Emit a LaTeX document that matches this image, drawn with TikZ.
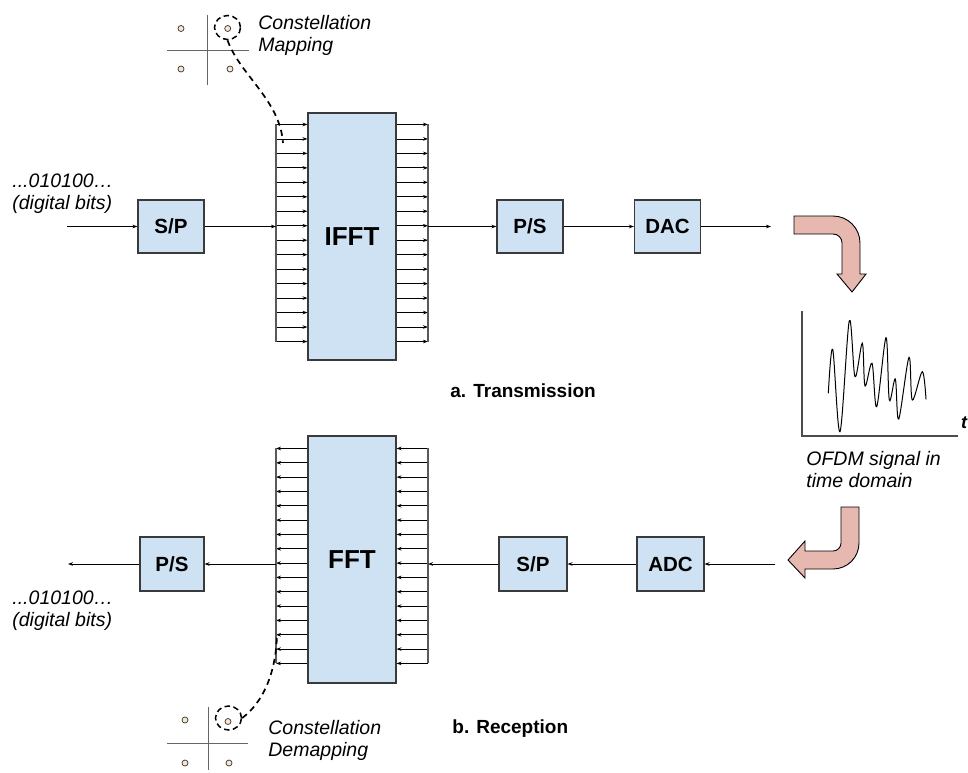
\documentclass[tikz,border=0pt]{standalone}
\usepackage{fontspec}
\setmainfont{Liberation Sans}
\usetikzlibrary{arrows.meta,positioning,calc,shapes.geometric}
\definecolor{blockblue}{HTML}{CFE2F3}
\definecolor{blockline}{HTML}{3A3A3A}
\definecolor{bentred}{HTML}{E6B8AF}
\definecolor{dotbeige}{HTML}{FCE5CD}
\begin{document}
\begin{tikzpicture}[x=1pt,y=-1pt,>={Stealth[length=5pt,width=3.6pt]},line width=0.8pt,
  block/.style={draw=blockline,fill=blockblue,line width=1.1pt,minimum width=66pt,minimum height=53pt,inner sep=0pt,font=\fontsize{20.5}{24}\selectfont\bfseries},
  fft block/.style={block,minimum width=88pt,minimum height=247pt,font=\fontsize{26}{30}\selectfont\bfseries},
  bus/.style={draw=black!65,line width=1.1pt},
  note/.style={align=left,inner sep=0pt,anchor=north west,font=\fontsize{19.5}{22}\selectfont\itshape},
  caption/.style={inner sep=0pt,anchor=base west,font=\fontsize{19}{22}\selectfont\bfseries},
  bent arrow/.style={draw=black,fill=bentred,line width=0.9pt},
  dot/.style={circle,draw=black!80,fill=dotbeige,line width=0.7pt,minimum size=6pt,inner sep=0pt},
  pick/.style={draw=black,ellipse,line width=1.5pt,dash pattern=on 5.5pt off 3.5pt,minimum width=26pt,minimum height=24pt,inner sep=0pt},
  map line/.style={draw=black,line width=1.7pt,dash pattern=on 6pt off 4.5pt},
  axis/.style={draw=black!70,line width=1.2pt}]
\useasboundingbox (0,0) rectangle (968,772);

% transmission
\node[fft block] (ifft) at (352,236.5) {IFFT};
\node[block] (sp) at (171,226.5) {S/P};
\node[block] (ps) at (530,226.5) {P/S};
\node[block] (dac) at (667.5,226.5) {DAC};
\coordinate (tx start) at (67,226.5);
\coordinate (tx end) at (771,226.5);
\coordinate (tx in bus) at (276,0);
\coordinate (tx out bus) at (428,0);
\foreach \i in {0,...,15} {
  \path (ifft.north west) ++(0,{12+14.47*\i}) coordinate (l\i);
  \path (ifft.north east) ++(0,{12+14.47*\i}) coordinate (r\i);
  \draw[->] (l\i -| tx in bus) -- (l\i);
  \draw[->] (r\i) -- (r\i -| tx out bus);
}
\draw[bus] (l0 -| tx in bus) -- (l15 -| tx in bus);
\draw[bus] (r0 -| tx out bus) -- (r15 -| tx out bus);
\draw[->] (tx start) -- (sp);
\draw[->] (sp.east) -- (sp.east -| tx in bus);
\draw[->] (ps.west -| tx out bus) -- (ps.west);
\draw[->] (ps) -- (dac);
\draw[->] (dac) -- (tx end);

% reception
\node[fft block] (fft) at (352,559.5) {FFT};
\node[block,minimum width=64pt,minimum height=54pt] (ps rx) at (172,564) {P/S};
\node[block,minimum width=68pt,minimum height=54pt] (sp rx) at (533,564) {S/P};
\node[block,minimum width=67pt,minimum height=54pt] (adc) at (670.5,564) {ADC};
\coordinate (rx start) at (775,564);
\coordinate (rx end) at (68,564);
\coordinate (rx in bus) at (428,0);
\coordinate (rx out bus) at (276,0);
\foreach \i in {0,...,15} {
  \path (fft.north east) ++(0,{13+14.33*\i}) coordinate (q\i);
  \path (fft.north west) ++(0,{13+14.33*\i}) coordinate (p\i);
  \draw[->] (q\i -| rx in bus) -- (q\i);
  \draw[->] (p\i) -- (p\i -| rx out bus);
}
\draw[bus] (q0 -| rx in bus) -- (q15 -| rx in bus);
\draw[bus] (p0 -| rx out bus) -- (p15 -| rx out bus);
\draw[->] (rx start) -- (adc);
\draw[->] (adc) -- (sp rx);
\draw[->] (sp rx.west) -- (sp rx.west -| rx in bus);
\draw[->] (ps rx.east -| rx out bus) -- (ps rx.east);
\draw[->] (ps rx) -- (rx end);

% constellation mapping
\draw[axis,draw=black!60,line width=0.9pt] (207,15) -- (207,85);
\draw[axis,draw=black!60,line width=0.9pt] (167,50) -- (249,50);
\node[dot] (m1) at (181,28.5) {};
\node[dot] (m2) at (227.7,28.5) {};
\node[dot] (m3) at (181,69) {};
\node[dot] (m4) at (230,69) {};
\node[pick] (pick tx) at (227.5,27.5) {};
\coordinate (map end) at (283,143);
\draw[map line] (pick tx.south) .. controls (240,75) and (280,100) .. (map end);
\node[note] (map text) at (258,15) {Constellation\\Mapping};

% constellation demapping
\draw[axis,draw=black!60,line width=0.9pt] (208,707) -- (208,770);
\draw[axis,draw=black!60,line width=0.9pt] (167,743) -- (248,743);
\node[dot] (d1) at (185,720) {};
\node[dot] (d2) at (228,721.5) {};
\node[dot] (d3) at (185,763) {};
\node[dot] (d4) at (229,763) {};
\node[pick] (pick rx) at (228.5,718) {};
\coordinate (demap end) at (277,634);
\draw[map line] (pick rx.east) .. controls (262,703) and (276,675) .. (demap end);
\node[note] (demap text) at (268,720) {Constellation\\Demapping};

% bits
\node[note] (bits tx) at (12,173) {...010100…\\(digital bits)};
\node[note] (bits rx) at (12,590) {...010100…\\(digital bits)};

% captions
\node[caption] (cap tx) at (450,397) {a. Transmission};
\node[caption] (cap rx) at (452,733) {b. Reception};

% channel
\draw[bent arrow] (794,216) -- (833,216) .. controls (847.9,216) and (860,228.1) .. (860,243) -- (860,274) -- (866,274) -- (852,292) -- (837,274) -- (842,274) -- (842,243) .. controls (842,238) and (838,234) .. (833,234) -- (794,234) -- cycle;
\draw[bent arrow] (841,507) -- (859,507) -- (859,543) .. controls (859,557.4) and (847.4,569) .. (833,569) -- (805,569) -- (805,578) -- (788,560) -- (805,541) -- (805,551) -- (833,551) .. controls (837.4,551) and (841,547.4) .. (841,543) -- cycle;
\draw[axis] (802,311) -- (802,436) -- (958,436);
\draw[line width=1pt] plot[smooth,tension=0.55] coordinates {(828.3,393.3) (832.7,349.3) (840,431.7) (849.3,320.7) (855,376.7) (862.3,343.3) (865,386) (872,363.3) (876.7,406.7) (886,337.7) (889.3,400) (895.3,379) (898.7,419) (909,357.3) (912.3,400) (922.3,371.7) (926,399.3)};
\node[inner sep=0pt,anchor=base,font=\fontsize{18}{20}\selectfont\bfseries\itshape] (t label) at (964,428) {t};
\node[note] (signal text) at (806,451) {OFDM signal in\\time domain};
\end{tikzpicture}
\end{document}
